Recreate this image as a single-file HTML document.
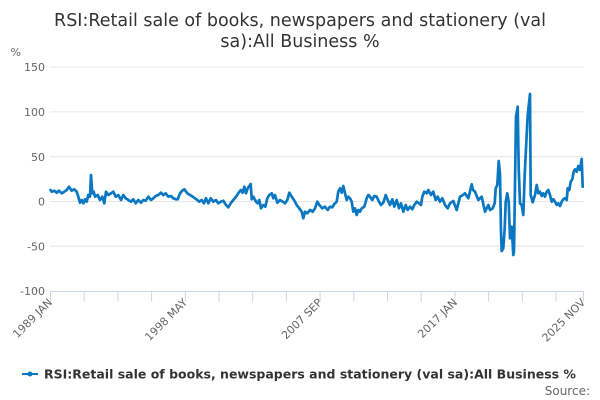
<!DOCTYPE html>
<html><head><meta charset="utf-8"><style>
html,body{margin:0;padding:0;background:#fff;}
svg{display:block;font-family:"DejaVu Sans","Liberation Sans",sans-serif;}
</style></head><body>
<svg width="600" height="400" viewBox="0 0 600 400" xmlns="http://www.w3.org/2000/svg">
<rect width="600" height="400" fill="#fff"/>
<text x="300" y="26" text-anchor="middle" font-size="17.5" fill="#333">RSI:Retail sale of books, newspapers and stationery (val</text>
<text x="300" y="47" text-anchor="middle" font-size="17.5" fill="#333">sa):All Business %</text>
<text x="10.5" y="56" font-size="11" fill="#666">%</text>
<g stroke="#e6e6e6" stroke-width="1">
<line x1="50" y1="67.1" x2="584" y2="67.1"/>
<line x1="50" y1="111.9" x2="584" y2="111.9"/>
<line x1="50" y1="156.7" x2="584" y2="156.7"/>
<line x1="50" y1="201.5" x2="584" y2="201.5"/>
<line x1="50" y1="246.3" x2="584" y2="246.3"/>
</g>
<g font-size="11" fill="#666" text-anchor="end">
<text x="45" y="71">150</text>
<text x="45" y="116">100</text>
<text x="45" y="161">50</text>
<text x="45" y="205.5">0</text>
<text x="45" y="250.5">-50</text>
<text x="45" y="295">-100</text>
</g>
<g stroke="#ccd6eb" stroke-width="1">
<line x1="50" y1="291.5" x2="584" y2="291.5"/>
<line x1="50.5" y1="291.5" x2="50.5" y2="301.5"/>
<line x1="84.2" y1="291.5" x2="84.2" y2="301.5"/>
<line x1="117.9" y1="291.5" x2="117.9" y2="301.5"/>
<line x1="151.6" y1="291.5" x2="151.6" y2="301.5"/>
<line x1="185.3" y1="291.5" x2="185.3" y2="301.5"/>
<line x1="219" y1="291.5" x2="219" y2="301.5"/>
<line x1="252.7" y1="291.5" x2="252.7" y2="301.5"/>
<line x1="286.4" y1="291.5" x2="286.4" y2="301.5"/>
<line x1="320.1" y1="291.5" x2="320.1" y2="301.5"/>
<line x1="353.8" y1="291.5" x2="353.8" y2="301.5"/>
<line x1="387.5" y1="291.5" x2="387.5" y2="301.5"/>
<line x1="421.2" y1="291.5" x2="421.2" y2="301.5"/>
<line x1="454.9" y1="291.5" x2="454.9" y2="301.5"/>
<line x1="488.6" y1="291.5" x2="488.6" y2="301.5"/>
<line x1="522.3" y1="291.5" x2="522.3" y2="301.5"/>
<line x1="556" y1="291.5" x2="556" y2="301.5"/>
<line x1="583.5" y1="291.5" x2="583.5" y2="301.5"/>
</g>
<g font-size="11" fill="#666" text-anchor="end">
<text transform="translate(53,303) rotate(-45)">1989 JAN</text>
<text transform="translate(188,303) rotate(-45)">1998 MAY</text>
<text transform="translate(323,303) rotate(-45)">2007 SEP</text>
<text transform="translate(458,303) rotate(-45)">2017 JAN</text>
<text transform="translate(586,303) rotate(-45)">2025 NOV</text>
</g>
<polyline fill="none" stroke="#0a77c2" stroke-width="2.7" stroke-linejoin="round" stroke-linecap="round" points="
50.5,190 51.7,191.7 54.3,190.7 56.7,192.7 59,190.7 61.7,193.3 64.3,191.7 66.7,190 69,186.7 71.7,190.7 74.3,189.3 76.7,191.7 78.3,196.7 80,202.7 81.7,200 83.3,203.3 85,199.3 86.7,201.7 88.3,195 90,196.7 91,175 92.3,193.3 93.7,191.7 95,196.7 97.7,195 100,200 102.3,196.7 104.3,203.3 106,191.7 108.3,195 111,193.3 113.3,191.7 115.7,196.7 118.3,195 121,200 123.3,195 125.7,198.3 128.3,200 131,201.7 133.3,199.3 135.7,203.3 138.3,200 141,202.7 143.3,200 145.7,200.7 148.3,196.7 151,200 153.3,198.3 155.7,196 158.3,195 161,192.7 163.3,195 165.7,193.3 168.3,196.7 171,196 173.3,198.3 175.7,199.3 177.7,199.3 180,193.3 182.3,190.7 184.3,189.3
187.3,193.3 190,195 192.7,196.7 195,198.3 197.3,200 199.3,201.7 201.7,200 204,203.3 206,198.3 208.3,203.3 210.7,198.3 213.3,201.7 216,200 218.3,203.3 220.7,201.7 223.3,200.7 226,205 228.3,207.3 230.7,203.3 233.3,200 236,196.7 238.3,193.3 240.7,190 242.7,192.7 244.3,186.7 246,193.3 247.7,188.3 249.3,186 250.7,184 251.7,199.3 253.3,196.7 256,201.7 257.7,203.3 259.3,200 261,208.3 263.3,205 265.3,206.7 267.3,198.3 269.3,195 271.7,193.3 273.3,198.3 275,195 277.3,202.7 280,200 282.7,201.7 285,203.3 287.3,200 289.3,192.7 291.7,196.7 294,200 296.7,205 299.3,208.3 301.7,211.7 303.3,218.3 305,211.7 307.3,213.3 310,210 312.7,211.7 315,208.3 317.3,201.7 319.3,205
322.3,208.3 325,206.7 327.7,210 330,206.7 332.3,207.3 334.3,204 336.7,201.7 338.3,191.7 340,188.3 341.7,192.7 343.3,186 345,193.3 346.7,200 348.3,196.7 350,198.3 351.7,201.7 353.3,211.7 355,208.3 356.7,215 358.3,210 360,211.7 361.7,208.3 364.3,206.7 366.7,198.3 368.3,195 370,196.7 372.3,200 374.3,196 376.7,196.7 379,201.7 381,205 383.3,202.7 385.7,195 387.7,200 390,205 392.3,199.3 394.3,206.7 396.7,200 399,208.3 401,203.3 403.3,211.7 405.7,205 407.7,210 410,206.7 412.3,209.3 414.3,205 416.7,201.7 419,203.3 421,205 422.3,196.7 424.3,191.7 426.7,193.3 428.3,190 431,195 433.3,191.7 435.7,200 437.7,196.7 440,201.7 442.3,198.3 445,205 447.7,208.3 450,203.3
453.3,201 456.7,210 460,196.7 463,195 465,193.3 468.3,198.3 471.7,184.3 473,190 475,191.7 478.3,200 481.7,196.7 485,211.7 488.3,205 490,210 492.7,208.3 494.7,203.3 495.7,188.3 497.3,185 498.7,161 500,174.3 501,231.7 501.7,251 503.3,248.3 504.7,228.3 505.7,201.7 507.3,193.3 508.7,201.7 510,238.3 511.7,226.7 513.3,255 514,251.7 516,116.7 517.7,106.7 518.7,168.3 520,203.3 521.7,205 523.3,215 524.7,175 526,148.3 527.7,115 530,94 530.7,195 532.7,202.3 535,195 536.7,185 538.3,193.3 540,191.7 541.7,196 543.3,193.3 545,196.7 546.7,191.7 548.3,190 550,195 551.7,201.7 553.3,199.3 555,201.7 556.7,205 558.3,203.3 560,206 561.7,201.7 563.3,199.3 565,198.3 566.7,200 567.7,188.3 569.3,190 570.7,181.7 572.3,179.3 573.7,171.7 575,169.3 576.7,171.7 578.3,166 580,170 581.7,159 582.7,186.7"/>
<line x1="22" y1="374" x2="38" y2="374" stroke="#0a77c2" stroke-width="2"/>
<circle cx="30" cy="374" r="2.5" fill="#0a77c2"/>
<text x="44" y="378.5" font-size="12.5" font-weight="bold" fill="#333">RSI:Retail sale of books, newspapers and stationery (val sa):All Business %</text>
<text x="590" y="395" font-size="12" fill="#666" text-anchor="end">Source:</text>
</svg>
</body></html>
